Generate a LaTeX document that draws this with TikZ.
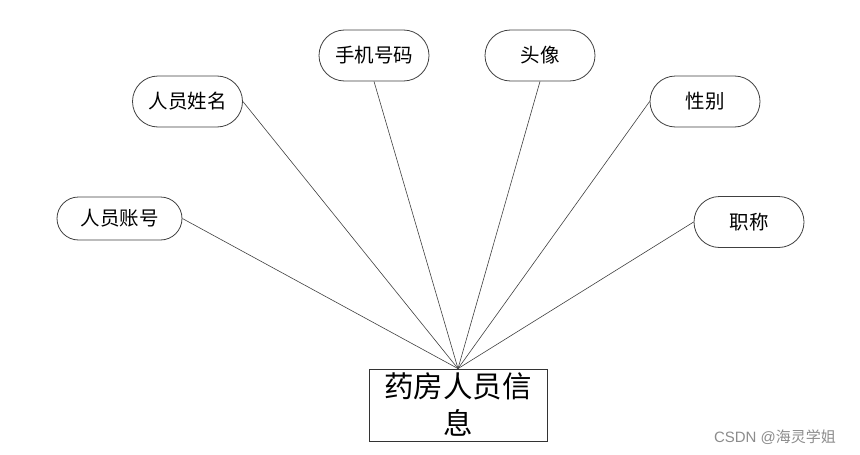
\documentclass[tikz,border=0pt]{standalone}
\usepackage{fontspec}
\newfontfamily\cjk{Noto Sans CJK SC}
\newfontfamily\wmfont{Liberation Sans}
\usetikzlibrary{shapes.misc}
\begin{document}
\begin{tikzpicture}[x=1pt,y=-1pt,
  attr/.style={rounded rectangle, draw=black!75, line width=0.8pt, fill=white,
    minimum width=110pt, minimum height=51pt, inner sep=0pt,
    font=\cjk\fontsize{19.5}{22}\selectfont},
  entity/.style={rectangle, draw=black!80, line width=0.8pt, fill=white,
    minimum width=178pt, minimum height=72pt, inner sep=0pt, align=center,
    font=\cjk\fontsize{29.5}{37}\selectfont},
  link/.style={draw=black!75, line width=0.6pt}]
\useasboundingbox (0,0) rectangle (860,455);
\node[entity] (main) at (458,405) {药房人员信\\息};
\node[attr, minimum width=125pt, minimum height=43pt] (zh) at (119.5,218.5) {人员账号};
\node[attr] (xm) at (187.5,101.5) {人员姓名};
\node[attr] (sj) at (374,55.5) {手机号码};
\node[attr] (tx) at (540,55.5) {头像};
\node[attr] (xb) at (705,101.5) {性别};
\node[attr] (zc) at (749,222) {职称};
\draw[link] (zh.east) -- (main.north);
\draw[link] (xm.east) -- (main.north);
\draw[link] (sj.south) -- (main.north);
\draw[link] (tx.south) -- (main.north);
\draw[link] (xb.west) -- (main.north);
\draw[link] (zc.west) -- (main.north);
\node[text=black!45, font=\wmfont\fontsize{15}{17}\selectfont] (wm) at (775,437) {CSDN @{\cjk 海灵学姐}};
\end{tikzpicture}
\end{document}
